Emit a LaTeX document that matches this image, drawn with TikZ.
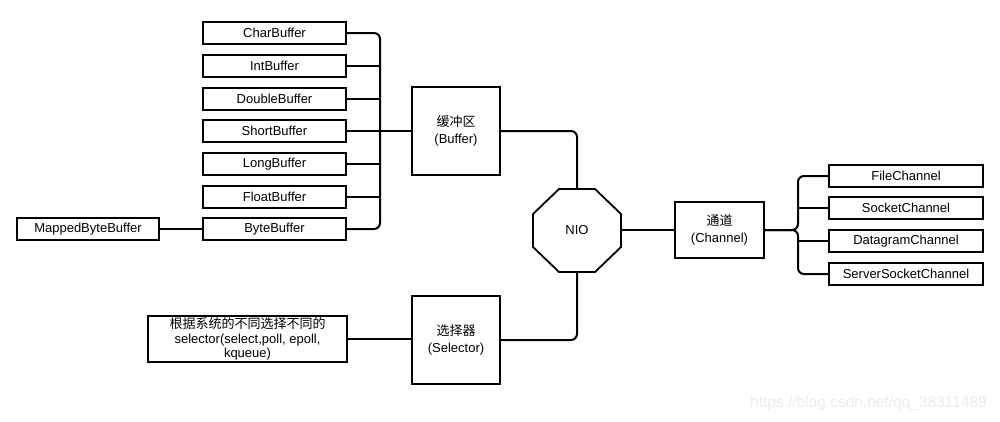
\documentclass[tikz,border=0pt]{standalone}
\usepackage{fontspec}
\setmainfont{Liberation Sans}
\newfontfamily\cjk{Noto Sans CJK SC}
\begin{document}
\begin{tikzpicture}[x=1pt,y=-1pt,
  box/.style={draw=black,line width=1.8pt,inner sep=0pt,align=center,font=\fontsize{13}{16.5}\selectfont},
  small/.style={box,minimum width=143pt,minimum height=22pt},
  chbox/.style={box,minimum width=154pt,minimum height=22pt},
  big/.style={box,minimum width=88pt,minimum height=88pt},
  wire/.style={line width=2pt,line cap=round,rounded corners=6pt}]
\fill[white] (0,0) rectangle (1000,421);
\useasboundingbox (0,0) rectangle (1000,421);
% buffer types
\node[small] (char) at (274.5,33) {CharBuffer};
\node[small] (int) at (274.5,66) {IntBuffer};
\node[small] (double) at (274.5,99) {DoubleBuffer};
\node[small] (short) at (274.5,131) {ShortBuffer};
\node[small] (long) at (274.5,164) {LongBuffer};
\node[small] (float) at (274.5,197) {FloatBuffer};
\node[small] (byte) at (274.5,229) {ByteBuffer};
\node[small,minimum width=142pt] (mapped) at (88,229) {MappedByteBuffer};
% main boxes
\node[big] (buf) at (456,131) {{\cjk 缓冲区}\\(Buffer)};
\node[big] (sel) at (456,340) {{\cjk 选择器}\\(Selector)};
\node[box,minimum width=199pt,minimum height=46pt,font=\fontsize{13}{14.5}\selectfont] (selleft) at (247.5,339)
  {{\cjk 根据系统的不同选择不同的}\\selector(select,poll, epoll,\\kqueue)};
\node[inner sep=0pt,minimum width=88pt,minimum height=83pt,font=\fontsize{13}{16}\selectfont] (nio) at (577,230.5) {NIO};
\draw[line width=1.8pt,line join=miter] (559,189) -- (595,189) -- (621,214) -- (621,247) -- (595,272) -- (559,272) -- (533,247) -- (533,214) -- cycle;
\node[box,minimum width=89pt,minimum height=56pt] (chan) at (719.5,230) {{\cjk 通道}\\(Channel)};
% channel types
\node[chbox] (file) at (906,176) {FileChannel};
\node[chbox] (sock) at (906,208) {SocketChannel};
\node[chbox] (dgram) at (906,241) {DatagramChannel};
\node[chbox] (ssock) at (906,274) {ServerSocketChannel};
% buffer bus
\coordinate (bx) at (380,0);
\draw[wire] (char.east) -- (char.east -| bx) -- (byte.east -| bx) -- (byte.east);
\draw[wire] (int.east) -- (int.east -| bx);
\draw[wire] (double.east) -- (double.east -| bx);
\draw[wire] (long.east) -- (long.east -| bx);
\draw[wire] (float.east) -- (float.east -| bx);
\draw[wire] (short.east) -- (buf.west);
\draw[wire] (mapped.east) -- (byte.west);
% NIO connections
\draw[wire] (buf.east) -| (nio.north);
\draw[wire] (sel.east) -| (nio.south);
\draw[wire] (nio.east |- chan.west) -- (chan.west);
\draw[wire] (selleft.east) -- (selleft.east -| sel.west);
% channel bus
\coordinate (cx) at (798,0);
\draw[wire] (chan.east) -- (chan.east -| cx) -- (file.west -| cx) -- (file.west);
\draw[wire] (chan.east) -- (chan.east -| cx) -- (ssock.west -| cx) -- (ssock.west);
\draw[wire] (sock.west -| cx) -- (sock.west);
\draw[wire] (dgram.west -| cx) -- (dgram.west);
% watermark
\node[text=black!8,font=\fontsize{15.5}{18}\selectfont,inner sep=0pt] (wm) at (868.5,403) {https://blog.csdn.net/qq\_38311489};
\end{tikzpicture}
\end{document}
